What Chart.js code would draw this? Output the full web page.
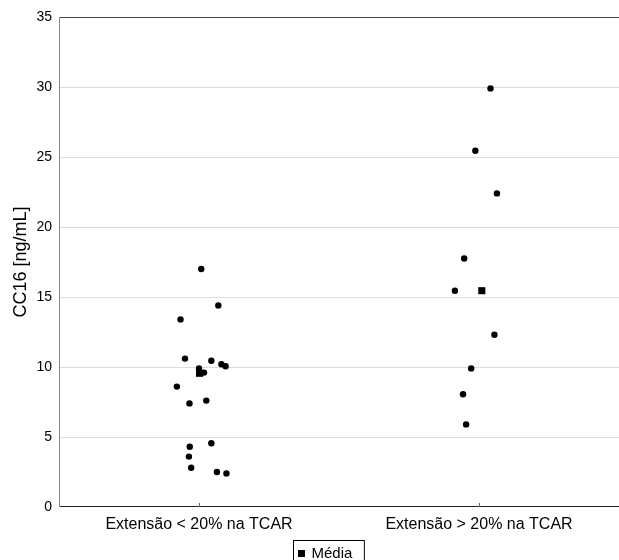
<!DOCTYPE html>
<html>
<head>
<meta charset="utf-8">
<script src="https://cdn.jsdelivr.net/npm/chart.js@4/dist/chart.umd.min.js"></script>
<style>
  html, body { margin: 0; padding: 0; background: #fff; }
  #wrap { width: 619px; height: 560px; position: relative; }
</style>
</head>
<body>
<div id="wrap"><canvas id="cc16"></canvas></div>
<script>
// groups on the x axis
var categories = ["Extensão < 20% na TCAR", "Extensão > 20% na TCAR"];

// CC16 values per group, and small horizontal jitter (in category units)
var lowValues = [17.0, 14.4, 13.4, 10.6, 10.45, 10.2, 10.05, 9.9, 9.6, 8.6, 7.6, 7.4, 4.55, 4.3, 3.6, 2.8, 2.5, 2.4];
var lowJitter = [0.008, 0.069, -0.066, -0.05, 0.044, 0.08, 0.095, 0.0, 0.018, -0.079, 0.026, -0.034, 0.044, -0.033, -0.036, -0.028, 0.064, 0.098];
var highValues = [29.9, 25.45, 22.4, 17.75, 15.45, 12.3, 9.9, 8.05, 5.9];
var highJitter = [0.041, -0.013, 0.064, -0.053, -0.086, 0.055, -0.028, -0.057, -0.046];

// group means (square markers)
var meanValues = [9.55, 15.45];
var meanJitter = [0.002, 0.01];

var yTicks = [0, 5, 10, 15, 20, 25, 30, 35];

var FONT = "'Liberation Sans', Arial, Helvetica, sans-serif";

var points = [];
lowValues.forEach(function (v, i) { points.push({ x: 0 + lowJitter[i], y: v }); });
highValues.forEach(function (v, i) { points.push({ x: 1 + highJitter[i], y: v }); });
var means = meanValues.map(function (v, i) { return { x: i + meanJitter[i], y: v }; });

// frame lines (top, bottom, left) + small inward tick marks at the category centres
var framePlugin = {
  id: "frame",
  afterDatasetsDraw: function (chart) {
    var a = chart.chartArea, ctx = chart.ctx;
    ctx.save();
    ctx.lineWidth = 1;
    ctx.strokeStyle = "#444";
    ctx.beginPath();
    ctx.moveTo(a.left, a.top + 0.5); ctx.lineTo(a.right, a.top + 0.5);
    ctx.stroke();
    ctx.strokeStyle = "#222";
    ctx.beginPath();
    ctx.moveTo(a.left, a.bottom - 0.5); ctx.lineTo(a.right, a.bottom - 0.5);
    ctx.stroke();
    ctx.strokeStyle = "#888";
    ctx.beginPath();
    ctx.moveTo(a.left + 0.5, a.top); ctx.lineTo(a.left + 0.5, a.bottom);
    ctx.stroke();
    ctx.strokeStyle = "#666";
    ctx.beginPath();
    categories.forEach(function (c, i) {
      var px = Math.round(chart.scales.x.getPixelForValue(i)) + 0.5;
      ctx.moveTo(px, a.bottom); ctx.lineTo(px, a.bottom - 4);
    });
    ctx.stroke();
    ctx.restore();
  }
};

// boxed legend with only the mean marker
var legendPlugin = {
  id: "boxLegend",
  afterDraw: function (chart) {
    var ctx = chart.ctx;
    var label = chart.data.datasets[1].label;
    ctx.save();
    ctx.font = "15px " + FONT;
    var tw = ctx.measureText(label).width;
    var bx = 293.5, by = 540.5, bw = 18 + tw + 12, bh = 30;
    ctx.fillStyle = "#fff";
    ctx.fillRect(bx, by, bw, bh);
    ctx.strokeStyle = "#000";
    ctx.lineWidth = 1;
    ctx.strokeRect(bx, by, bw, bh);
    ctx.fillStyle = "#000";
    ctx.fillRect(bx + 4.5, by + 9.5, 7, 7);
    ctx.textBaseline = "middle";
    ctx.fillText(label, bx + 18, by + 13);
    ctx.restore();
  }
};

new Chart(document.getElementById("cc16").getContext("2d"), {
  type: "scatter",
  data: {
    datasets: [
      {
        label: "CC16",
        data: points,
        pointStyle: "circle",
        pointRadius: 3.2,
        pointHoverRadius: 3.2,
        backgroundColor: "#000",
        borderColor: "#000",
        borderWidth: 0,
        order: 2
      },
      {
        label: "Média",
        data: means,
        pointStyle: "rect",
        pointRadius: 5,
        pointHoverRadius: 5,
        backgroundColor: "#000",
        borderColor: "#000",
        borderWidth: 0,
        order: 1
      }
    ]
  },
  options: {
    responsive: true,
    maintainAspectRatio: false,
    animation: false,
    layout: { autoPadding: false, padding: { top: 17, right: 0, left: 0, bottom: 0 } },
    plugins: {
      legend: { display: false },
      tooltip: { enabled: false }
    },
    scales: {
      x: {
        type: "linear",
        min: -0.5,
        max: 1.5,
        afterBuildTicks: function (axis) {
          axis.ticks = categories.map(function (c, i) { return { value: i }; });
        },
        afterFit: function (axis) {
          axis.height = 53;
          axis.paddingLeft = 0;
          axis.paddingRight = 0;
        },
        grid: { display: false, drawTicks: false },
        border: { display: false },
        ticks: {
          padding: 8,
          color: "#000",
          font: { family: FONT, size: 16 },
          callback: function (v) { return categories[v]; }
        }
      },
      y: {
        min: 0,
        max: 35,
        afterBuildTicks: function (axis) {
          axis.ticks = yTicks.map(function (t) { return { value: t }; });
        },
        afterFit: function (axis) { axis.width = 59; },
        grid: {
          drawTicks: false,
          color: function (c) {
            return (c.tick && (c.tick.value === 0 || c.tick.value === 35)) ? "rgba(0,0,0,0)" : "#dcdcdc";
          }
        },
        border: { display: false },
        ticks: {
          padding: 7,
          color: "#000",
          font: { family: FONT, size: 14 }
        },
        title: {
          display: true,
          text: "CC16 [ng/mL]",
          color: "#000",
          font: { family: FONT, size: 18 },
          padding: { top: 10, bottom: 0 }
        }
      }
    }
  },
  plugins: [framePlugin, legendPlugin]
});
</script>
</body>
</html>
